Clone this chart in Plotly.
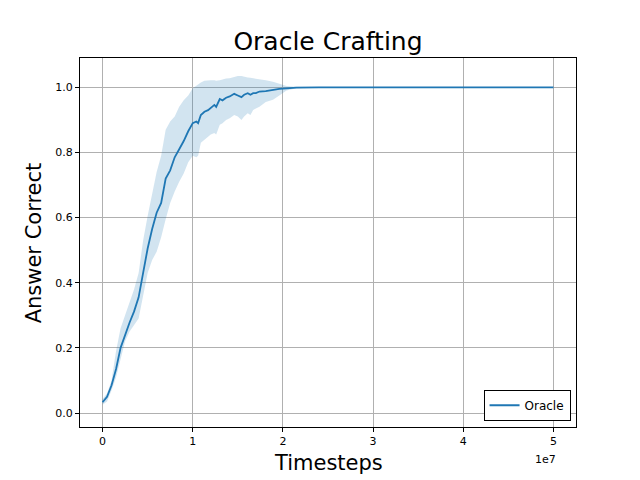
import plotly.graph_objects as go

# Timesteps in units of 1e7
x_e7 = [0.00, 0.05, 0.10, 0.15, 0.20, 0.25, 0.30, 0.35, 0.40, 0.45, 0.50, 0.55, 0.60, 0.65,
        0.70, 0.75, 0.80, 0.85, 0.90, 0.95, 1.00, 1.04, 1.06, 1.09, 1.13, 1.17, 1.20, 1.24,
        1.26, 1.30, 1.33, 1.37, 1.41, 1.46, 1.50, 1.54, 1.57, 1.61, 1.64, 1.67, 1.70, 1.74,
        1.81, 1.89, 1.96, 2.04, 2.15, 2.40, 2.70, 3.00, 3.50, 4.00, 4.50, 5.00]
mean = [0.033, 0.050, 0.085, 0.135, 0.200, 0.240, 0.278, 0.312, 0.355, 0.430, 0.505, 0.565,
        0.615, 0.645, 0.720, 0.745, 0.785, 0.810, 0.835, 0.865, 0.890, 0.895, 0.890, 0.915,
        0.925, 0.930, 0.936, 0.946, 0.940, 0.964, 0.960, 0.968, 0.972, 0.980, 0.975, 0.970,
        0.977, 0.982, 0.977, 0.982, 0.982, 0.987, 0.988, 0.992, 0.995, 0.997, 0.999, 1.000,
        1.000, 1.000, 1.000, 1.000, 1.000, 1.000]
upper = [0.043, 0.060, 0.100, 0.190, 0.260, 0.300, 0.340, 0.380, 0.430, 0.530, 0.605, 0.670,
         0.740, 0.790, 0.870, 0.895, 0.910, 0.940, 0.960, 0.975, 0.997, 1.005, 1.010, 1.015,
         1.020, 1.022, 1.022, 1.022, 1.020, 1.022, 1.025, 1.027, 1.028, 1.032, 1.035, 1.035,
         1.032, 1.030, 1.029, 1.028, 1.027, 1.025, 1.022, 1.017, 1.010, 1.004, 1.002, 1.001,
         1.000, 1.000, 1.000, 1.000, 1.000, 1.000]
lower = [0.025, 0.035, 0.070, 0.110, 0.165, 0.220, 0.250, 0.270, 0.290, 0.360, 0.430, 0.470,
         0.495, 0.540, 0.595, 0.645, 0.680, 0.710, 0.735, 0.770, 0.790, 0.785, 0.790, 0.830,
         0.840, 0.848, 0.855, 0.860, 0.855, 0.885, 0.890, 0.900, 0.905, 0.915, 0.910, 0.900,
         0.910, 0.920, 0.915, 0.930, 0.935, 0.940, 0.955, 0.962, 0.975, 0.990, 0.997, 0.999,
         1.000, 1.000, 1.000, 1.000, 1.000, 1.000]
x_ticks = [0, 1, 2, 3, 4, 5]
y_ticks = [0.0, 0.2, 0.4, 0.6, 0.8, 1.0]

x = [v * 1e7 for v in x_e7]
font = "DejaVu Sans"
blue = "#1f77b4"

fig = go.Figure()
fig.add_trace(go.Scatter(x=x + x[::-1], y=upper + lower[::-1], fill="toself",
                         fillcolor="rgba(31,119,180,0.2)", line=dict(width=0),
                         hoverinfo="skip", showlegend=False))
fig.add_trace(go.Scatter(x=x, y=mean, mode="lines", name="Oracle",
                         line=dict(color=blue, width=1.8)))

axis_common = dict(showline=True, linecolor="black", linewidth=1, mirror=True,
                   ticks="outside", ticklen=4, tickcolor="black",
                   showgrid=True, gridcolor="#b0b0b0", gridwidth=1, zeroline=False,
                   tickfont=dict(family=font, size=11, color="black"))

fig.update_layout(
    width=640, height=480,
    margin=dict(l=80, r=64, t=58, b=53),
    paper_bgcolor="white", plot_bgcolor="white",
    font=dict(family=font, color="black"),
    title=dict(text="Oracle Crafting", x=0.5, xref="paper", y=1 - 41 / 480, yref="container",
               xanchor="center", yanchor="middle", font=dict(size=25, family=font)),
    xaxis=dict(range=[-0.25e7, 5.25e7], tickvals=[t * 1e7 for t in x_ticks],
               ticktext=[str(t) for t in x_ticks], **axis_common),
    yaxis=dict(range=[-0.043, 1.09], tickvals=y_ticks,
               ticktext=[f"{t:.1f}" for t in y_ticks], **axis_common),
    legend=dict(x=0.989, y=0.017, xanchor="right", yanchor="bottom",
                bordercolor="black", borderwidth=1, bgcolor="white",
                font=dict(family=font, size=12), tracegroupgap=0),
    showlegend=True,
    annotations=[
        dict(text="Timesteps", x=0.5, xref="paper", y=-0.0976, yref="paper",
             xanchor="center", yanchor="middle",
             showarrow=False, font=dict(size=21, family=font)),
        dict(text="1e7", x=0.964, xref="paper", y=-0.089, yref="paper", xanchor="right",
             yanchor="middle", showarrow=False, font=dict(size=11, family=font)),
        dict(text="Answer Correct", x=-0.093, xref="paper", y=0.5, yref="paper",
             textangle=-90, xanchor="center", yanchor="middle",
             showarrow=False, font=dict(size=21, family=font)),
    ],
)

fig.write_html("out.html", config={"displayModeBar": False},
               post_script="document.body.style.margin='0';")
